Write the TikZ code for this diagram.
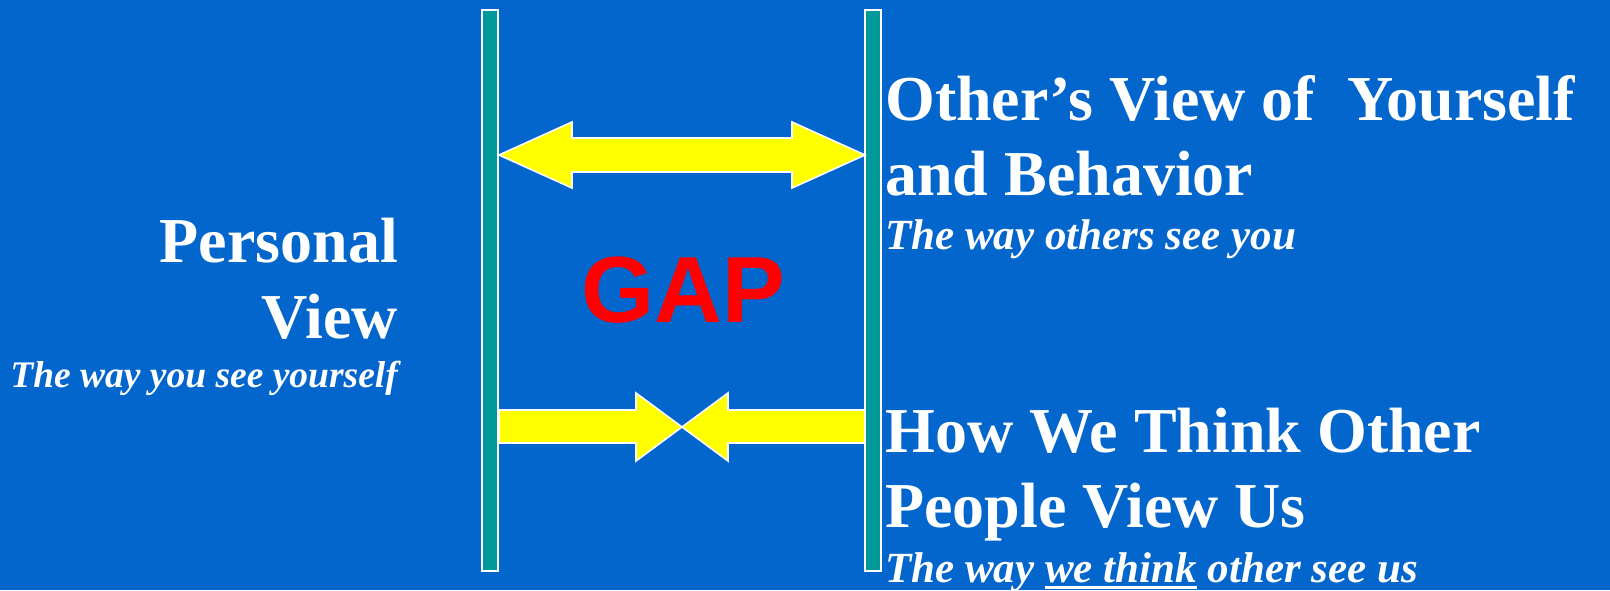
\documentclass[tikz,border=0pt]{standalone}
\usepackage{fontspec}
\setmainfont{Liberation Serif}
\newfontfamily\gapfont{Liberation Sans}
\definecolor{slideblue}{HTML}{0366CC}
\definecolor{barteal}{HTML}{009999}
\definecolor{arrowyellow}{HTML}{FFFF00}
\definecolor{gapred}{HTML}{FF0000}
% thick underline sitting a little below the baseline
\newcommand\thickul[1]{\setbox0=\hbox{#1}\rlap{\rule[-7pt]{\wd0}{3pt}}\box0\relax}
\begin{document}
\begin{tikzpicture}[x=1pt,y=-1pt,
  bar/.style={rectangle, fill=barteal, draw=white, line width=2pt, minimum width=16pt, minimum height=561pt, inner sep=0pt},
  fatarrow/.style={fill=arrowyellow, draw=white, line width=1.6pt, line join=miter},
  title/.style={text=white, inner sep=0pt, font=\fontsize{64}{75}\selectfont\bfseries},
  subtitle/.style={text=white, inner sep=0pt, font=\fontsize{43}{50}\selectfont\bfseries\itshape},
  gaplabel/.style={text=gapred, inner sep=0pt, font=\fontsize{94}{100}\selectfont\gapfont\bfseries}]
\fill[slideblue] (0,0) rectangle (1610,590);
\useasboundingbox (0,0) rectangle (1610,590);

% the two vertical bars
\node[bar] (lbar) at (490,290.5) {};
\node[bar] (rbar) at (873,290.5) {};

% double-headed arrow between the bars
\draw[fatarrow] (499,155) -- (572,122) -- (572,138) -- (792,138) -- (792,122)
  -- (865,155) -- (792,188) -- (792,172) -- (572,172) -- (572,188) -- cycle;

% two arrows meeting in the middle
\draw[fatarrow] (499,410) -- (636,410) -- (636,393) -- (682,427) -- (636,461)
  -- (636,443) -- (499,443) -- cycle;
\draw[fatarrow] (865,410) -- (728,410) -- (728,393) -- (682,427) -- (728,461)
  -- (728,443) -- (865,443) -- cycle;

% labels
\node[gaplabel, anchor=base] (gap) at (683,322) {GAP};

\node[title, anchor=base east] (pv1) at (398,262) {Personal};
\node[title, anchor=base east] (pv2) at (398,338) {View};
\node[subtitle, anchor=base east, font=\fontsize{37.5}{44}\selectfont\bfseries\itshape] (pv3) at (398,387) {The way you see yourself};

\node[title, anchor=base west] (ov1) at (885,120) {Other’s View of\ \ Yourself};
\node[title, anchor=base west] (ov2) at (885,195) {and Behavior};
\node[subtitle, anchor=base west] (ov3) at (885,249) {The way others see you};

\node[title, anchor=base west] (hw1) at (885,452) {How We Think Other};
\node[title, anchor=base west] (hw2) at (885,527) {People View Us};
\node[subtitle, anchor=base west] (hw3) at (885,582) {The way \thickul{we think} other see us};
\end{tikzpicture}
\end{document}
